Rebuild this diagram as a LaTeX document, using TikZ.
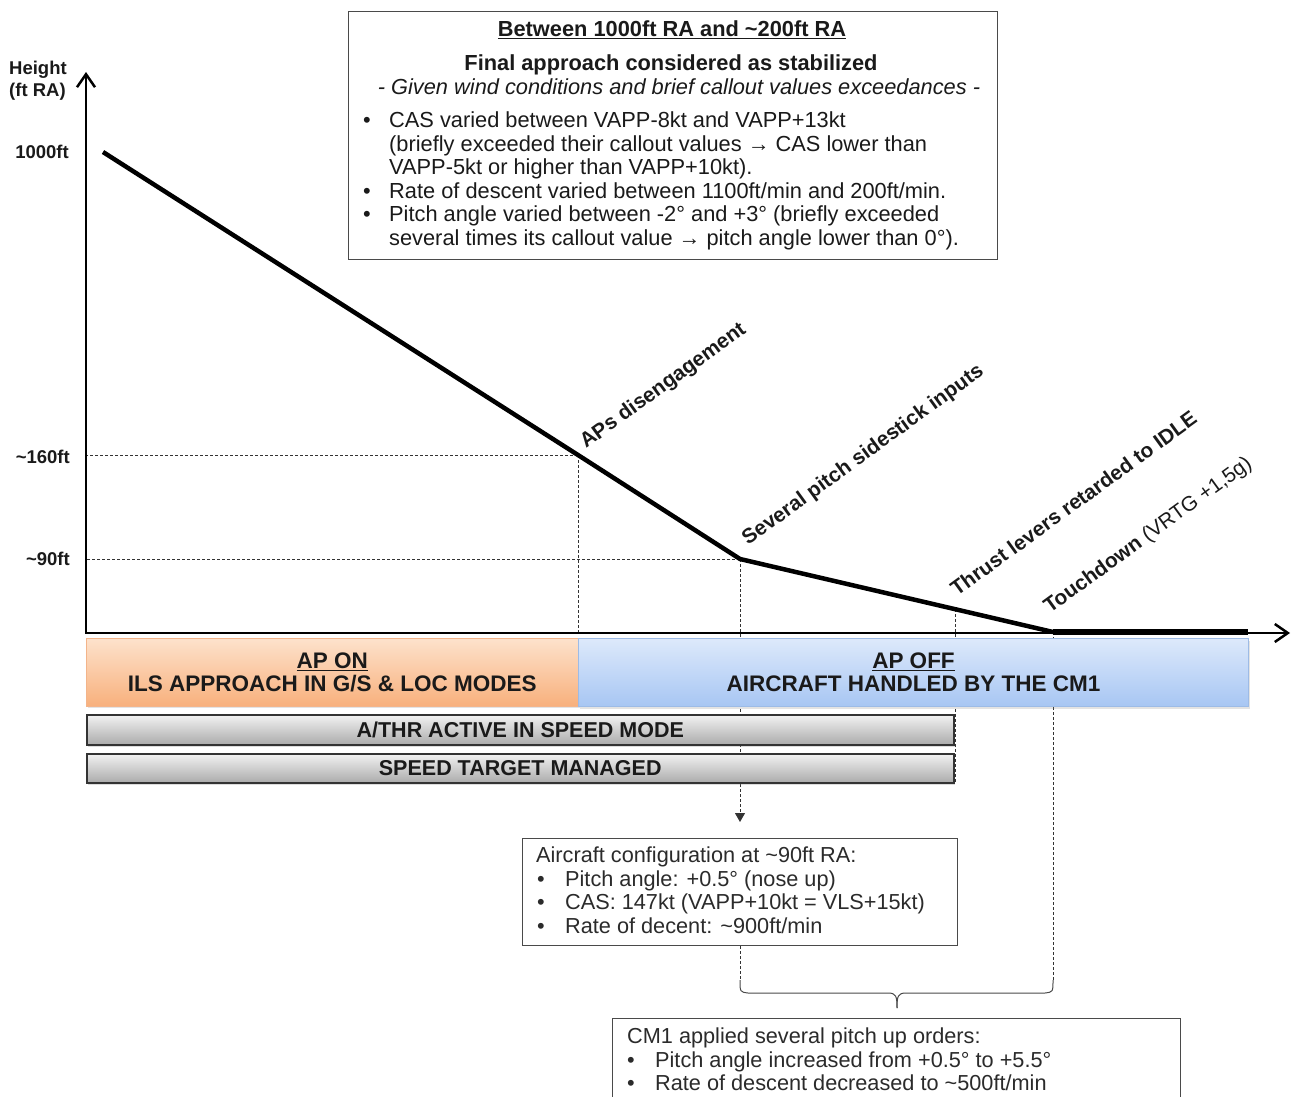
\documentclass[tikz,border=0pt]{standalone}
\usepackage{fontspec}
\setmainfont{Liberation Sans}
\usetikzlibrary{arrows.meta,shadows}
\definecolor{txt}{HTML}{1A1A1A}
\definecolor{txtb}{HTML}{2B2B2B}
\definecolor{boxc}{HTML}{4A4A4A}
\definecolor{orT}{HTML}{FDE2CC}
\definecolor{orB}{HTML}{F8B07C}
\definecolor{orE}{HTML}{F3B48A}
\definecolor{blT}{HTML}{DDE9FB}
\definecolor{blB}{HTML}{A7C6F3}
\definecolor{blE}{HTML}{9DBBE6}
\definecolor{grT}{HTML}{F2F2F2}
\definecolor{grB}{HTML}{ABABAB}
\definecolor{grE}{HTML}{333333}
\begin{document}
\begin{tikzpicture}[x=1pt,y=-1pt,
  tb/.style={font=\fontsize{21.8}{23.5}\selectfont, text=txt, inner sep=0pt, text height=18pt, text depth=3pt},
  bb/.style={font=\fontsize{21.7}{23.5}\selectfont, text=txtb, inner sep=0pt, text height=18pt, text depth=3pt},
  ylab/.style={font=\bfseries\fontsize{18.5}{22}\selectfont, text=txt, inner sep=0pt, anchor=east},
  diag/.style={font=\bfseries\fontsize{20.8}{22}\selectfont, text=txt, inner sep=0pt, anchor=base west, rotate=36},
  frame/.style={draw=boxc, line width=1.3pt, fill=white, inner sep=0pt, anchor=north west},
  guide/.style={draw=black!80, line width=0.9pt, dash pattern=on 3pt off 2pt},
  axis/.style={line width=2.5pt, {Straight Barb[length=13pt,width=18pt]}-{Straight Barb[length=13pt,width=18pt]}},
  curve/.style={line width=4.5pt, line join=round},
  bigbar/.style={anchor=north west, inner sep=0pt, minimum height=68pt, align=center,
     font=\bfseries\fontsize{22.5}{23}\selectfont, text=txt,
     drop shadow={shadow xshift=1.5pt, shadow yshift=-2pt, opacity=0.22}},
  graybar/.style={anchor=north west, inner sep=0pt, minimum width=867pt, draw=grE, line width=1.5pt,
     top color=grT, bottom color=grB, font=\bfseries\fontsize{21.5}{22}\selectfont, text=txt,
     drop shadow={shadow xshift=1.5pt, shadow yshift=-2pt, opacity=0.28}},
  brc/.style={draw=boxc, line width=1pt}
]
\useasboundingbox (0,0) rectangle (1293,1097);
\clip (0,0) rectangle (1293,1097);

% ---------- top box ----------
\node[frame, minimum width=649pt, minimum height=248pt] (topbox) at (348,11) {};
\node[tb] (t1) at (672,29) {\bfseries\underline{Between 1000ft RA and \textasciitilde200ft RA}};
\node[tb] (t2) at (671,63) {\bfseries Final approach considered as stabilized};
\node[tb] (t3) at (679,87) {\itshape - Given wind conditions and brief callout values exceedances -};
\node[tb] (tb1) at (367,120) {•};
\node[tb, anchor=west] (tl1) at (389,120) {CAS varied between VAPP-8kt and VAPP+13kt};
\node[tb, anchor=west] (tl2) at (389,144) {(briefly exceeded their callout values → CAS lower than};
\node[tb, anchor=west] (tl3) at (389,167) {VAPP-5kt or higher than VAPP+10kt).};
\node[tb] (tb2) at (367,191) {•};
\node[tb, anchor=west] (tl4) at (389,191) {Rate of descent varied between 1100ft/min and 200ft/min.};
\node[tb] (tb3) at (367,214) {•};
\node[tb, anchor=west] (tl5) at (389,214) {Pitch angle varied between -2° and +3° (briefly exceeded};
\node[tb, anchor=west] (tl6) at (389,238) {several times its callout value → pitch angle lower than 0°).};

% ---------- axes labels ----------
\node[font=\bfseries\fontsize{18.5}{22}\selectfont, text=txt, inner sep=0pt, anchor=west, align=left] (hlab) at (9,81) {Height\\(ft RA)};
\node[ylab] (l1000) at (69,152) {1000ft};
\node[ylab] (l160) at (70,457) {\textasciitilde160ft};
\node[ylab] (l90) at (70,559) {\textasciitilde90ft};

% ---------- key coordinates ----------
\coordinate (o) at (86,633);
\coordinate (ytop) at (86,72);
\coordinate (xend) at (1290,633);
\coordinate (p0) at (103,152);
\coordinate (p1) at (578,455);
\coordinate (p2) at (740,559);
\coordinate (q) at (955,609);
\coordinate (p3) at (1053,632);
\coordinate (p4) at (1248,632);
\coordinate (b1) at (740,980);
\coordinate (b2) at (1053,980);
\coordinate (btip) at (897,1008);

% ---------- boxes below ----------
\node[frame, minimum width=435pt, minimum height=107pt] (cfg) at (522,838) {};
\node[bb, anchor=west] (c0) at (536,855) {Aircraft configuration at \textasciitilde90ft RA:};
\node[bb] (cb1) at (541,879) {•};
\node[bb, anchor=west] (c1) at (565,879) {Pitch angle: +0.5° (nose up)};
\node[bb] (cb2) at (541,902) {•};
\node[bb, anchor=west] (c2) at (565,902) {CAS: 147kt (VAPP+10kt = VLS+15kt)};
\node[bb] (cb3) at (541,926) {•};
\node[bb, anchor=west] (c3) at (565,926) {Rate of decent: \textasciitilde900ft/min};

\node[frame, minimum width=568pt, minimum height=110pt] (cm1) at (612,1018) {};
\node[bb, anchor=west] (m0) at (627,1036) {CM1 applied several pitch up orders:};
\node[bb] (mb1) at (631,1060) {•};
\node[bb, anchor=west] (m1) at (655,1060) {Pitch angle increased from +0.5° to +5.5°};
\node[bb] (mb2) at (631,1083) {•};
\node[bb, anchor=west] (m2) at (655,1083) {Rate of descent decreased to \textasciitilde500ft/min};

% ---------- guide lines ----------
\draw[guide] (p1) -- (o |- p1);
\draw[guide] (p2) -- (o |- p2);
\draw[guide] (p1) -- (p1 |- o);
\draw[guide, -{Triangle[length=9pt,width=10pt]}, shorten >=16pt] (p2) -- (p2 |- cfg.north);
\draw[guide] (q) -- (955,782);
\draw[guide] (p3) -- (b2);
\draw[guide] (cfg.south -| b1) -- (b1);

% brace
\draw[brc] (b1) .. controls (740,992) .. (748,993) -- (888,993) .. controls (896,993) and (897,996) .. (btip);
\draw[brc] (b2) .. controls (1053,992) .. (1045,993) -- (906,993) .. controls (898,993) and (897,996) .. (btip);

% ---------- curve & axes ----------
\draw[curve] (p0) -- (p1) -- (p2) -- (p3);
\draw[line width=5.5pt] (p3) -- (p4);
\draw[axis] (ytop) -- (o) -- (xend);

% ---------- bars ----------
\node[bigbar, minimum width=492pt, top color=orT, bottom color=orB, draw=orE, line width=0.6pt] (apon) at (86,638)
  {\underline{AP ON}\\ILS APPROACH IN G/S \& LOC MODES};
\node[bigbar, minimum width=670pt, top color=blT, bottom color=blB, draw=blE, line width=1pt] (apoff) at (578,638)
  {\underline{AP OFF}\\AIRCRAFT HANDLED BY THE CM1};
\node[graybar, minimum height=30pt] (athr) at (86,714) {A/THR ACTIVE IN SPEED MODE};
\node[graybar, minimum height=29pt] (spd) at (86,753) {SPEED TARGET MANAGED};

% ---------- event labels ----------
\node[diag] (e1) at (586,449) {APs disengagement};
\node[diag] (e2) at (748,546) {Several pitch sidestick inputs};
\node[diag] (e3) at (957,597) {Thrust levers retarded to IDLE};
\node[diag] (e4) at (1050,614) {Touchdown {\mdseries (VRTG +1,5g)}};
\end{tikzpicture}
\end{document}
